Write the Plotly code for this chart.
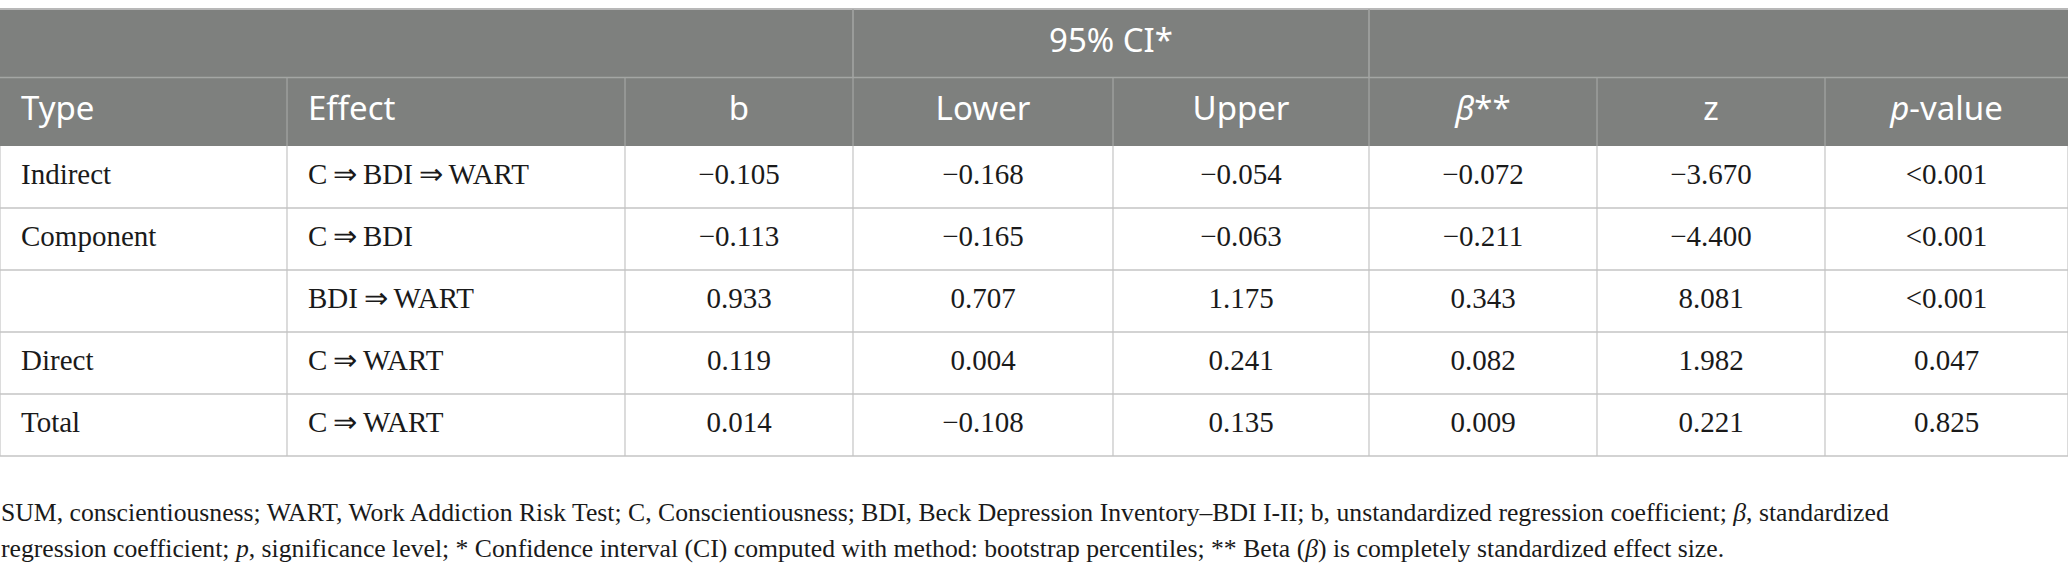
import plotly.graph_objects as go

# Mediation table: conscientiousness -> depression -> work addiction
types = ["Indirect", "Component", "", "Direct", "Total"]
effects = ["C\u2009\u21d2\u2009BDI\u2009\u21d2\u2009WART", "C\u2009\u21d2\u2009BDI", "BDI\u2009\u21d2\u2009WART",
           "C\u2009\u21d2\u2009WART", "C\u2009\u21d2\u2009WART"]
b_vals = ["\u22120.105", "\u22120.113", "0.933", "0.119", "0.014"]
lower = ["\u22120.168", "\u22120.165", "0.707", "0.004", "\u22120.108"]
upper = ["\u22120.054", "\u22120.063", "1.175", "0.241", "0.135"]
beta = ["\u22120.072", "\u22120.211", "0.343", "0.082", "0.009"]
z_vals = ["\u22123.670", "\u22124.400", "8.081", "1.982", "0.221"]
p_vals = ["<0.001", "<0.001", "<0.001", "0.047", "0.825"]

headers = ["Type", "Effect", "b", "Lower", "Upper", "<i>\u03b2</i>**", "z", "<i>p</i>-value"]
ci_label = "95% CI*"
ci_cols = [3, 4]
col_widths = [287, 338, 228, 260, 256, 228, 228, 243]
left_cols = [0, 1]

footnote1 = ("SUM, conscientiousness; WART, Work Addiction Risk Test; C, Conscientiousness; BDI, Beck Depression "
             "Inventory\u2013BDI I-II; b, unstandardized regression coefficient; <i>\u03b2</i>, standardized")
footnote2 = ("regression coefficient; <i>p</i>, significance level; * Confidence interval (CI) computed with method: "
             "bootstrap percentiles; ** Beta (<i>\u03b2</i>) is completely standardized effect size.")

W, H = 2068, 577
TOP = 9
HEAD_H = 68.5
ROW_H = 62
HEAD_GRAY = "#7e807e"
HEAD_LINE = "#a4a6a4"
TOP_LINE = "#b8b8b8"
BODY_LINE = "#c4c4c4"
TEXT = "#1a1a1a"
SANS = "Noto Sans"
SERIF = "Liberation Serif"

columns = [types, effects, b_vals, lower, upper, beta, z_vals, p_vals]

x_edges = [0]
for w in col_widths:
    x_edges.append(x_edges[-1] + w)
y_edges = [TOP, TOP + HEAD_H, TOP + 2 * HEAD_H]
for _ in types:
    y_edges.append(y_edges[-1] + ROW_H)

fig = go.Figure()

shapes = [dict(type="rect", x0=0, x1=x_edges[-1], y0=y_edges[0], y1=y_edges[2],
               fillcolor=HEAD_GRAY, line_width=0, layer="below")]


def hline(y, x0, x1, color, width):
    shapes.append(dict(type="line", x0=x0, x1=x1, y0=y, y1=y, line=dict(color=color, width=width)))


def vline(x, y0, y1, color, width):
    shapes.append(dict(type="line", x0=x, x1=x, y0=y0, y1=y1, line=dict(color=color, width=width)))


hline(y_edges[0], 0, x_edges[-1], TOP_LINE, 2)
hline(y_edges[1], 0, x_edges[-1], HEAD_LINE, 1.5)
vline(x_edges[ci_cols[0]], y_edges[0], y_edges[1], HEAD_LINE, 1.5)
vline(x_edges[ci_cols[-1] + 1], y_edges[0], y_edges[1], HEAD_LINE, 1.5)
for x in x_edges[1:-1]:
    vline(x, y_edges[1], y_edges[2], HEAD_LINE, 1.2)
for y in y_edges[3:]:
    hline(y, 0, x_edges[-1], BODY_LINE, 1.5)
for x in x_edges:
    vline(x, y_edges[2], y_edges[-1], BODY_LINE, 1.2)

# cell text, one trace per column
body_y = [(y_edges[2 + i] + y_edges[3 + i]) / 2 for i in range(len(types))]
head_y = (y_edges[1] + y_edges[2]) / 2
for i, col in enumerate(columns):
    if i in left_cols:
        x = x_edges[i] + 21
        pos = "middle right"
    else:
        x = (x_edges[i] + x_edges[i + 1]) / 2
        pos = "middle center"
    fig.add_trace(go.Scatter(x=[x] * len(col), y=body_y, text=col, mode="text", textposition=pos,
                             textfont=dict(family=SERIF, size=29, color=TEXT), hoverinfo="skip"))
    fig.add_trace(go.Scatter(x=[x], y=[head_y], text=[headers[i]], mode="text", textposition=pos,
                             textfont=dict(family=SANS, size=33, color="white"), hoverinfo="skip"))

# merged "95% CI*" label across Lower and Upper
ci_x = (x_edges[ci_cols[0]] + x_edges[ci_cols[-1] + 1]) / 2
fig.add_trace(go.Scatter(x=[ci_x], y=[(y_edges[0] + y_edges[1]) / 2], text=[ci_label], mode="text",
                         textposition="middle center",
                         textfont=dict(family=SANS, size=33, color="white"), hoverinfo="skip"))

for txt, ypix in [(footnote1, 512), (footnote2, 548)]:
    fig.add_annotation(x=0, y=ypix, xref="x", yref="y", text=txt, showarrow=False,
                       font=dict(family=SERIF, size=25.7, color=TEXT),
                       xanchor="left", yanchor="middle", align="left", borderpad=0)

fig.update_layout(width=W, height=H, margin=dict(l=0, r=0, t=0, b=0),
                  paper_bgcolor="white", plot_bgcolor="white", showlegend=False,
                  shapes=shapes)
fig.update_xaxes(range=[0, W], visible=False, fixedrange=True)
fig.update_yaxes(range=[H, 0], visible=False, fixedrange=True)
# drop the browser's default page margin so the figure sits at the window corner
fig.write_html("out.html", config={"displayModeBar": False},
               post_script="document.body.style.margin='0';")
